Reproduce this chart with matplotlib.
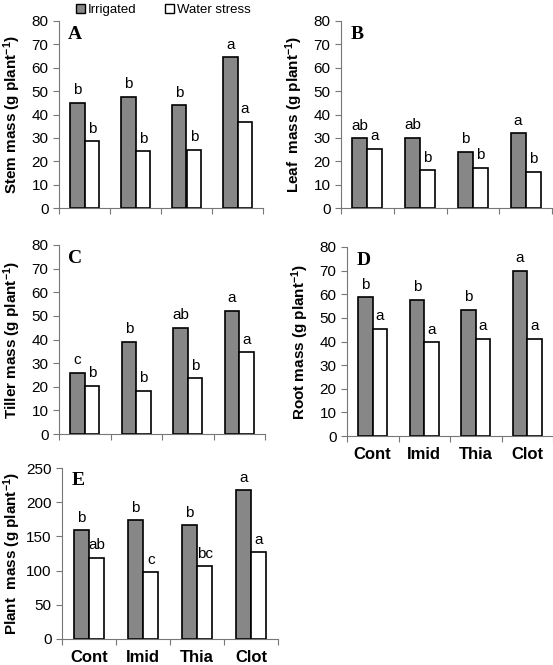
import numpy as np
import matplotlib
matplotlib.use("Agg")
import matplotlib.pyplot as plt
from matplotlib.patches import Patch

plt.rcParams['font.family'] = ['Liberation Sans', 'DejaVu Sans']
plt.rcParams['mathtext.fontset'] = 'custom'
plt.rcParams['mathtext.rm'] = 'Liberation Sans:bold'
plt.rcParams['mathtext.bf'] = 'Liberation Sans:bold'
plt.rcParams['mathtext.default'] = 'bf'

treatments = ['Cont', 'Imid', 'Thia', 'Clot']

stem_irr = [45, 47.5, 44, 64.5]
stem_ws = [28.5, 24.3, 24.8, 37]
stem_irr_lab = ['b', 'b', 'b', 'a']
stem_ws_lab = ['b', 'b', 'b', 'a']

leaf_irr = [29.8, 30, 24, 32]
leaf_ws = [25.2, 16.2, 17.2, 15.5]
leaf_irr_lab = ['ab', 'ab', 'b', 'a']
leaf_ws_lab = ['a', 'b', 'b', 'b']

tiller_irr = [25.8, 39, 45, 52]
tiller_ws = [20.5, 18.2, 23.5, 34.5]
tiller_irr_lab = ['c', 'b', 'ab', 'a']
tiller_ws_lab = ['b', 'b', 'b', 'a']

root_irr = [58.7, 57.5, 53.5, 70]
root_ws = [45.3, 39.6, 41, 41]
root_irr_lab = ['b', 'b', 'b', 'a']
root_ws_lab = ['a', 'a', 'a', 'a']

plant_irr = [159, 174, 166, 218]
plant_ws = [119, 98, 106, 127]
plant_irr_lab = ['b', 'b', 'b', 'a']
plant_ws_lab = ['ab', 'c', 'bc', 'a']

gray = '#878787'
W, H = 553, 665
fig = plt.figure(figsize=(W / 100, H / 100), dpi=100)


def box(l, r, t, b):
    return [l / W, 1 - b / H, (r - l) / W, (b - t) / H]


def panel(rect, irr, ws, irr_lab, ws_lab, ylabel, letter, ymax, step, xlabels=False, pad=6):
    ax = fig.add_axes(rect)
    x = np.arange(len(treatments))
    w = 0.285
    ax.bar(x - w / 2, irr, w, color=gray, edgecolor='black', linewidth=1.2)
    ax.bar(x + w / 2, ws, w, color='white', edgecolor='black', linewidth=1.2)
    off = ymax * 0.03
    for i in range(len(x)):
        ax.text(x[i] - w / 2, irr[i] + off, irr_lab[i], ha='center', va='bottom', fontsize=11)
        ax.text(x[i] + w / 2, ws[i] + off, ws_lab[i], ha='center', va='bottom', fontsize=11)
    ax.set_xlim(-0.5, 3.5)
    ax.set_ylim(0, ymax)
    ax.set_yticks(np.arange(0, ymax + 1, step))
    ax.set_xticks(np.arange(-0.5, 4, 1))
    ax.set_xticklabels([])
    ax.tick_params(axis='x', length=4, color='#777777', direction='out')
    ax.tick_params(axis='y', length=4, color='#777777', labelsize=11)
    if xlabels:
        ax.set_xticks(x, minor=True)
        ax.set_xticklabels(treatments, minor=True, fontweight='bold', fontsize=12)
        ax.tick_params(axis='x', which='minor', length=0, pad=8)
    for s in ['top', 'right']:
        ax.spines[s].set_visible(False)
    for s in ['left', 'bottom']:
        ax.spines[s].set_color('#777777')
    ax.set_ylabel(ylabel, fontweight='bold', fontsize=11, labelpad=pad)
    ax.text(0.045, 0.975, letter, transform=ax.transAxes, fontsize=14, fontweight='bold',
            family='Liberation Serif', va='top', ha='left')
    return ax


panel(box(59, 263, 21, 208), stem_irr, stem_ws, stem_irr_lab, stem_ws_lab,
      r'Stem mass (g plant$^{-1}$)', 'A', 80, 10)
panel(box(341, 552, 21, 208), leaf_irr, leaf_ws, leaf_irr_lab, leaf_ws_lab,
      r'Leaf  mass (g plant$^{-1}$)', 'B', 80, 10)
panel(box(59, 265, 245, 434), tiller_irr, tiller_ws, tiller_irr_lab, tiller_ws_lab,
      r'Tiller mass (g plant$^{-1}$)', 'C', 80, 10)
panel(box(347, 553, 247, 436), root_irr, root_ws, root_irr_lab, root_ws_lab,
      r'Root mass (g plant$^{-1}$)', 'D', 80, 10, xlabels=True)
panel(box(62, 278, 468, 639), plant_irr, plant_ws, plant_irr_lab, plant_ws_lab,
      r'Plant  mass (g plant$^{-1}$)', 'E', 250, 50, xlabels=True, pad=2)

handles = [Patch(facecolor=gray, edgecolor='black', label='Irrigated'),
           Patch(facecolor='white', edgecolor='black', label='Water stress')]
fig.legend(handles=handles, loc='upper center', bbox_to_anchor=(0.295, 1.012), ncol=2,
           frameon=False, fontsize=9.5, handlelength=0.7, handleheight=0.7,
           handletextpad=0.2, columnspacing=2.2)

fig.savefig('out.png', dpi=100)
